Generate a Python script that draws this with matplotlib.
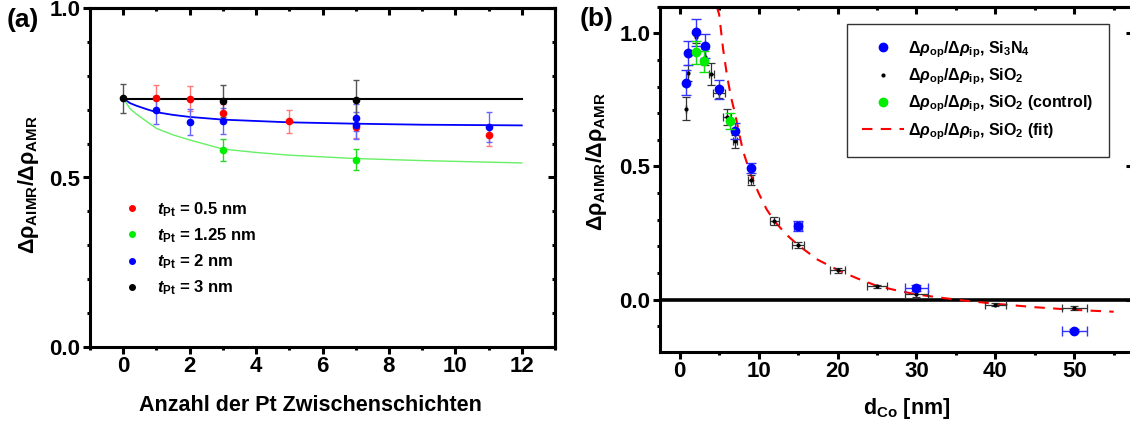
import matplotlib
matplotlib.use("Agg")
import matplotlib.pyplot as plt
from matplotlib.lines import Line2D
from matplotlib.ticker import MultipleLocator

plt.rcParams['font.family'] = ['Liberation Sans', 'DejaVu Sans']
plt.rcParams['font.weight'] = 'bold'
plt.rcParams['axes.labelweight'] = 'bold'
plt.rcParams['mathtext.fontset'] = 'custom'
plt.rcParams['mathtext.rm'] = 'Liberation Sans:bold'
plt.rcParams['mathtext.it'] = 'Liberation Sans:italic:bold'
plt.rcParams['mathtext.bf'] = 'Liberation Sans:bold'
plt.rcParams['mathtext.sf'] = 'Liberation Sans:bold'
plt.rcParams['mathtext.default'] = 'rm'

# ---- panel (a): ratio vs number of Pt interlayers ----
red_x = [1, 2, 3, 5, 7, 11]
red_y = [0.736, 0.733, 0.692, 0.666, 0.648, 0.625]
red_err = [0.038, 0.036, 0.025, 0.034, 0.032, 0.031]

green_x = [3, 7]
green_y = [0.582, 0.552]
green_err = [0.033, 0.031]

blue_x = [1, 2, 3, 7, 7, 11]
blue_y = [0.699, 0.663, 0.668, 0.677, 0.655, 0.649]
blue_err = [0.041, 0.038, 0.038, 0.04, 0.04, 0.044]

black_x = [0, 3, 7]
black_y = [0.734, 0.727, 0.730]
black_err = [0.043, 0.047, 0.057]

black_fit_x = [0, 12]
black_fit_y = [0.731, 0.731]
blue_fit_x = [0, 0.2, 0.4, 0.7, 1, 1.5, 2, 3, 4, 5, 7, 9, 12]
blue_fit_y = [0.734, 0.720, 0.712, 0.702, 0.693, 0.685, 0.679, 0.671, 0.667, 0.663, 0.659, 0.656, 0.654]
green_fit_x = [0, 0.2, 0.4, 0.6, 1, 1.5, 2, 3, 4, 5, 7, 9, 12]
green_fit_y = [0.734, 0.704, 0.687, 0.673, 0.645, 0.626, 0.611, 0.584, 0.574, 0.566, 0.556, 0.550, 0.543]

labels_a = [r"$\mathit{t}_{\mathrm{Pt}}$ = 0.5 nm", r"$\mathit{t}_{\mathrm{Pt}}$ = 1.25 nm",
            r"$\mathit{t}_{\mathrm{Pt}}$ = 2 nm", r"$\mathit{t}_{\mathrm{Pt}}$ = 3 nm"]

# ---- panel (b): ratio vs Co thickness ----
si3n4_x = [0.8, 1.0, 2.0, 3.2, 5.0, 7.0, 9.0, 15.0, 30.0, 50.0]
si3n4_y = [0.815, 0.927, 1.003, 0.952, 0.790, 0.635, 0.494, 0.277, 0.044, -0.116]
si3n4_yerr = [0.048, 0.045, 0.05, 0.045, 0.035, 0.03, 0.02, 0.02, 0.01, 0.005]
si3n4_xerr = [0, 0, 0, 0, 0, 0, 0, 0.5, 1.5, 1.6]

sio2_x = [0.8, 1.0, 2.0, 3.2, 4.0, 5.0, 6.0, 7.0, 9.0, 12.0, 15.0, 20.0, 25.0, 30.0, 40.0, 50.0]
sio2_y = [0.717, 0.85, 0.985, 0.912, 0.846, 0.777, 0.685, 0.594, 0.449, 0.296, 0.205, 0.11, 0.05, 0.0225, -0.019, -0.031]
sio2_yerr = [0.043, 0.03, 0.02, 0.03, 0.042, 0.02, 0.03, 0.025, 0.02, 0.015, 0.01, 0.008, 0.006, 0.012, 0.006, 0.008]
sio2_xerr = [0, 0, 0, 0, 0.3, 0.8, 0.5, 0.3, 0.3, 0.6, 0.8, 1.0, 1.3, 1.5, 1.3, 1.6]

ctrl_x = [2.0, 3.1, 6.4]
ctrl_y = [0.929, 0.894, 0.669]
ctrl_yerr = [0.043, 0.04, 0.03]

fit_x = [4.7, 5, 5.5, 6, 6.5, 7, 7.5, 8, 9, 10, 11, 12, 13.5, 15, 17.5, 20, 22.5, 25,
         27.5, 30, 33, 36, 40, 45, 50, 55]
fit_y = [1.10, 1.07, 0.94, 0.84, 0.76, 0.70, 0.63, 0.56, 0.47, 0.40, 0.34, 0.295, 0.245,
         0.205, 0.15, 0.112, 0.08, 0.052, 0.035, 0.02, 0.008, -0.003, -0.015, -0.028,
         -0.038, -0.045]

legend_b = [r"$\Delta\mathit{\rho}_{\mathrm{op}}/\Delta\mathit{\rho}_{\mathrm{ip}}$, Si$_3$N$_4$",
            r"$\Delta\mathit{\rho}_{\mathrm{op}}/\Delta\mathit{\rho}_{\mathrm{ip}}$, SiO$_2$",
            r"$\Delta\mathit{\rho}_{\mathrm{op}}/\Delta\mathit{\rho}_{\mathrm{ip}}$, SiO$_2$ (control)",
            r"$\Delta\mathit{\rho}_{\mathrm{op}}/\Delta\mathit{\rho}_{\mathrm{ip}}$, SiO$_2$ (fit)"]

ylabel = r"$\Delta\rho_{\mathrm{AIMR}}/\Delta\rho_{\mathrm{AMR}}$"

fig = plt.figure(figsize=(11.3, 4.23), dpi=100)
ax_a = fig.add_axes([90 / 1130, 1 - 346.7 / 423, 465 / 1130, 338.4 / 423])
ax_b = fig.add_axes([660 / 1130, 1 - 351.7 / 423, 473.4 / 1130, 345.1 / 423])


def style_axes(ax, xmaj, xmin, ymaj, ymin):
    for sp in ax.spines.values():
        sp.set_linewidth(2.2)
    ax.xaxis.set_major_locator(MultipleLocator(xmaj))
    ax.xaxis.set_minor_locator(MultipleLocator(xmin))
    ax.yaxis.set_major_locator(MultipleLocator(ymaj))
    ax.yaxis.set_minor_locator(MultipleLocator(ymin))
    ax.tick_params(which='major', direction='out', length=5, width=2.2, labelsize=16, pad=2)
    ax.tick_params(which='minor', direction='out', length=2.5, width=2.2)
    top = ax.secondary_xaxis('top')
    top.xaxis.set_major_locator(MultipleLocator(xmaj))
    top.xaxis.set_minor_locator(MultipleLocator(xmin))
    top.tick_params(which='major', direction='in', length=5, width=2.2, labeltop=False)
    top.tick_params(which='minor', direction='in', length=2.5, width=2.2)
    right = ax.secondary_yaxis('right')
    right.yaxis.set_major_locator(MultipleLocator(ymaj))
    right.yaxis.set_minor_locator(MultipleLocator(ymin))
    right.tick_params(which='major', direction='in', length=5, width=2.2, labelright=False)
    right.tick_params(which='minor', direction='in', length=2.5, width=2.2)
    for sec in (top, right):
        for sp in sec.spines.values():
            sp.set_linewidth(2.2)


# panel (a)
ax = ax_a
ax.plot(black_fit_x, black_fit_y, color='black', lw=1.5, zorder=2)
ax.plot(blue_fit_x, blue_fit_y, color='#0000ff', lw=1.3, zorder=2)
ax.plot(green_fit_x, green_fit_y, color='#66f066', lw=1.0, zorder=2)
eb = dict(fmt='o', ms=4.5, capsize=2.5, elinewidth=1.0, capthick=1.0, zorder=3)
ax.errorbar(red_x, red_y, yerr=red_err, color='#ff0000', ecolor='#ff7777', **eb)
ax.errorbar(green_x, green_y, yerr=green_err, color='#00ee00', ecolor='#22dd22', **eb)
ax.errorbar(blue_x, blue_y, yerr=blue_err, color='#0000ff', ecolor='#6666ff', **eb)
ax.errorbar(black_x, black_y, yerr=black_err, color='black', ecolor='#555555', **eb)
ax.set_xlim(-1, 13)
ax.set_ylim(0, 1)
style_axes(ax, 2, 1, 0.5, 0.1)
ax.set_xlabel("Anzahl der Pt Zwischenschichten", fontsize=15.5)
ax.xaxis.set_label_coords(0.475, -0.143)
ax.xaxis.label.set_va('top')
ax.set_ylabel(ylabel, fontsize=15.5)
ax.yaxis.set_label_coords(-0.105, 0.478)
handles_a = [Line2D([], [], ls='none', marker='o', ms=4, color=c)
             for c in ('#ff0000', '#00ee00', '#0000ff', 'black')]
ax.legend(handles_a, labels_a, loc='upper left', bbox_to_anchor=(0.055, 0.458), frameon=False,
          fontsize=12, handlelength=1.0, handletextpad=1.0, labelspacing=0.45, borderpad=0)
fig.text(7 / 1130, 1 - 20 / 423, "(a)", fontsize=19, fontweight='bold', va='center')

# panel (b)
ax = ax_b
ax.axhline(0, color='black', lw=2.6, zorder=1)
ax.plot(fit_x, fit_y, color='#ff0000', ls=(0, (5, 4)), lw=1.5, zorder=2)
ax.errorbar(sio2_x, sio2_y, yerr=sio2_yerr, xerr=sio2_xerr, fmt='o', ms=2, color='black',
            ecolor='#333333', capsize=3, elinewidth=0.9, capthick=0.9, zorder=3)
ax.errorbar(si3n4_x, si3n4_y, yerr=si3n4_yerr, xerr=si3n4_xerr, fmt='o', ms=6, color='#0000ff',
            ecolor='#3333ff', capsize=3.5, elinewidth=1.0, capthick=1.0, zorder=4)
ax.errorbar(ctrl_x, ctrl_y, yerr=ctrl_yerr, fmt='o', ms=6, color='#00ee00',
            ecolor='#11dd11', capsize=3.5, elinewidth=1.0, capthick=1.0, zorder=5)
ax.set_xlim(-2.5, 57.5)
ax.set_ylim(-0.195, 1.1)
style_axes(ax, 10, 5, 0.5, 0.1)
ax.set_xlabel(r"d$_{\mathrm{Co}}$ [nm]", fontsize=15.5)
ax.xaxis.set_label_coords(0.522, -0.128)
ax.xaxis.label.set_va('top')
ax.set_ylabel(ylabel, fontsize=15.5)
ax.yaxis.set_label_coords(-0.108, 0.55)
handles_b = [Line2D([], [], ls='none', marker='o', ms=6, color='#0000ff'),
             Line2D([], [], ls='none', marker='o', ms=2, color='black'),
             Line2D([], [], ls='none', marker='o', ms=6, color='#00ee00'),
             Line2D([], [], ls=(0, (5, 4)), lw=1.5, color='#ff0000')]
leg = ax.legend(handles_b, legend_b, loc='upper left', bbox_to_anchor=(0.395, 0.95),
                fontsize=11.5, frameon=True, fancybox=False, edgecolor='black',
                handlelength=2.6, handletextpad=0.3, labelspacing=0.42, borderpad=0.95,
                borderaxespad=0)
leg.get_frame().set_linewidth(1.0)
fig.text(580 / 1130, 1 - 19 / 423, "(b)", fontsize=19, fontweight='bold', va='center')

fig.savefig("out.png", dpi=100)
